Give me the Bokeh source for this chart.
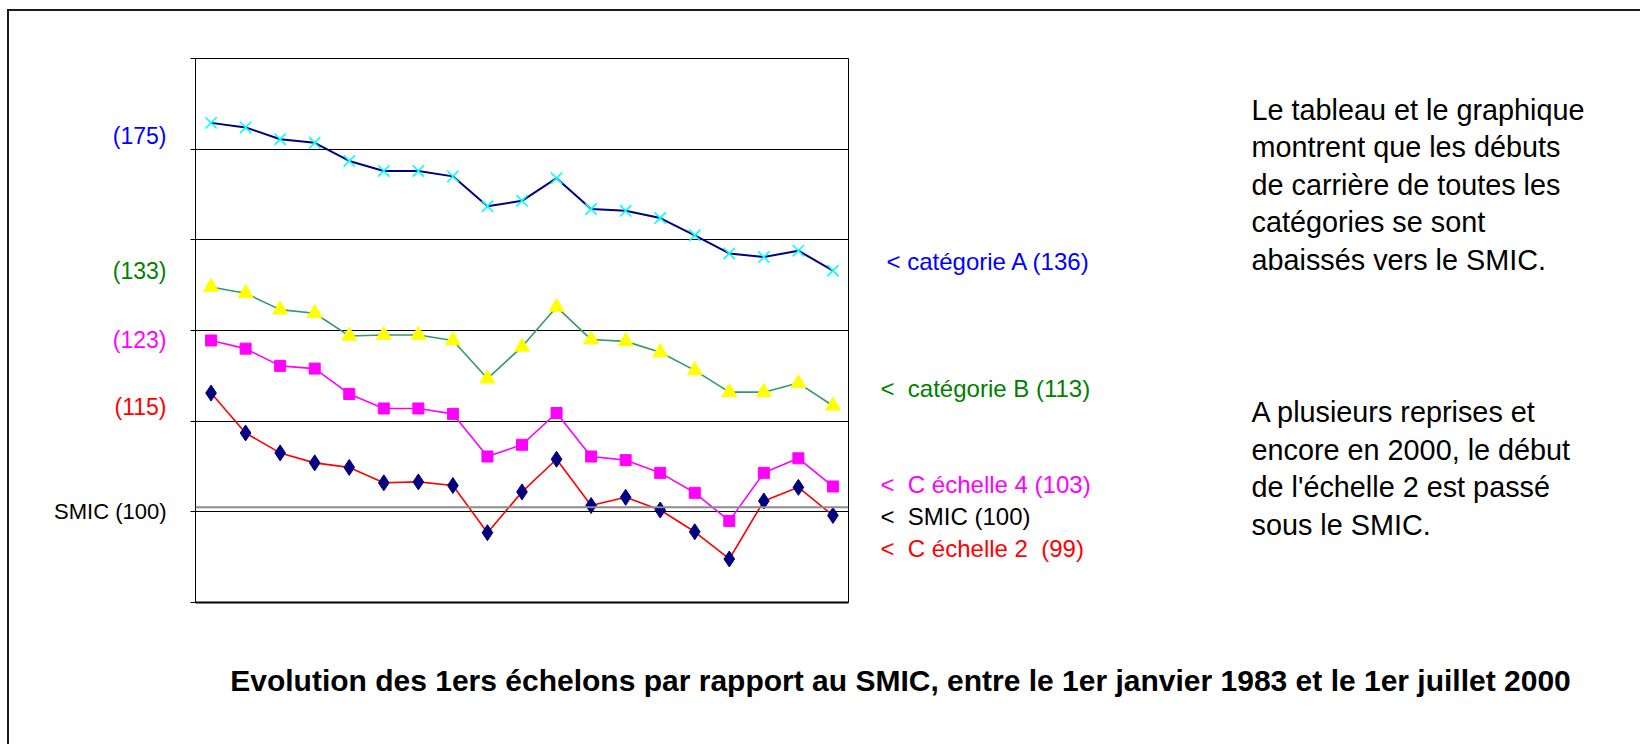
from bokeh.plotting import figure
from bokeh.layouts import row, column
from bokeh.models import Range1d, FixedTicker, Span
from bokeh.core.properties import value
from bokeh.embed import file_html
from bokeh.resources import INLINE

# ---------------- data ----------------
# 19 relevés successifs, du 1er janvier 1983 au 1er juillet 2000
obs = list(range(19))
cat_a = [142.9, 142.4, 141.1, 140.7, 138.7, 137.6, 137.6, 137.0, 133.7, 134.3,
         136.8, 133.4, 133.2, 132.4, 130.5, 128.5, 128.1, 128.8, 126.6]
cat_b = [124.8, 124.1, 122.3, 121.9, 119.4, 119.5, 119.5, 118.9, 114.7, 118.2,
         122.6, 119.0, 118.8, 117.6, 115.6, 113.2, 113.2, 114.2, 111.7]
c_ech4 = [118.9, 118.0, 116.1, 115.8, 113.0, 111.4, 111.4, 110.8, 106.1, 107.4,
          110.9, 106.1, 105.7, 104.3, 102.1, 99.0, 104.3, 105.9, 102.8]
c_ech2 = [113.1, 108.7, 106.5, 105.4, 104.9, 103.2, 103.3, 102.9, 97.7, 102.2,
          105.8, 100.7, 101.6, 100.2, 97.8, 94.8, 101.2, 102.7, 99.6]
smic_level = 100.5
grid_levels = [90, 100, 110, 120, 130, 140, 150]

NB = "\u00a0"
left_labels = ["(175)", "(133)", "(123)", "(115)", "SMIC (100)"]
right_labels = ["< catégorie A (136)", "<" + NB + " catégorie B (113)",
                "<" + NB + " C échelle 4 (103)", "<" + NB + " SMIC (100)",
                "<" + NB + " C échelle 2" + NB + " (99)"]
note_1 = ["Le tableau et le graphique", "montrent que les débuts",
          "de carrière de toutes les", "catégories se sont", "abaissés vers le SMIC."]
note_2 = ["A plusieurs reprises et", "encore en 2000, le début",
          "de l'échelle 2 est passé", "sous le SMIC."]
title_text = ("Evolution des 1ers échelons par rapport au SMIC, entre le 1er janvier 1983 "
              "et le 1er juillet 2000")

# ---------------- layout / styles ----------------
FONT = "Liberation Sans"
BLUE, GREEN, MAGENTA, RED, BLACK = "#0000ff", "#008000", "#ff00ff", "#ff0000", "#000000"
left_colors = [BLUE, GREEN, MAGENTA, RED, BLACK]
left_sizes = ["23px", "23px", "23px", "23px", "22px"]
right_colors = [BLUE, GREEN, MAGENTA, BLACK, RED]

PX0, PY0 = 9, 11            # page position of the content (inside the outer border)
TOP_H = 629                 # height of the upper row
LEFT_W = 160                # width of the left label strip
CH_L, CH_R, CH_T = 26, 10, 47
FRAME_W, FRAME_H = 653, 544
CH_B = TOP_H - CH_T - FRAME_H
CH_W = CH_L + FRAME_W + CH_R
RIGHT_W = 782
TOTAL_W = LEFT_W + CH_W + RIGHT_W
TITLE_H = 104


def side(w, x_start):
    """text strip sharing the chart's frame rows; coordinates are page pixels"""
    f = figure(width=w, height=TOP_H,
               x_range=Range1d(x_start, x_start + w),
               y_range=Range1d(PY0 + CH_T + FRAME_H, PY0 + CH_T),
               x_axis_type=None, y_axis_type=None, output_backend="svg",
               toolbar_location=None, min_border_left=0, min_border_right=0,
               min_border_top=CH_T, min_border_bottom=CH_B)
    f.grid.visible = False
    f.outline_line_color = None
    f.background_fill_color = "white"
    f.border_fill_color = "white"
    return f


# ---------------- main chart ----------------
X0, X1 = -0.45, 18.45
p = figure(width=CH_W, height=TOP_H, x_range=Range1d(X0, X1), y_range=Range1d(90, 150),
           output_backend="svg", toolbar_location=None,
           min_border_left=CH_L, min_border_right=CH_R, min_border_top=CH_T,
           min_border_bottom=CH_B)
p.outline_line_color = BLACK
p.outline_line_width = 1
p.background_fill_color = "white"
p.border_fill_color = "white"

p.xaxis.ticker = FixedTicker(ticks=[])
p.xaxis.axis_line_color = BLACK
p.xaxis.axis_line_width = 2
p.xaxis.major_label_text_font_size = "1px"
p.xaxis.major_label_text_alpha = 0
p.xgrid.grid_line_color = None

p.yaxis.ticker = FixedTicker(ticks=grid_levels)
p.yaxis.axis_line_color = BLACK
p.yaxis.axis_line_width = 1
p.yaxis.major_tick_out = 5
p.yaxis.major_tick_in = 0
p.yaxis.minor_tick_line_color = None
p.yaxis.major_label_text_font_size = "1px"
p.yaxis.major_label_text_alpha = 0
p.yaxis.major_label_standoff = 0
p.ygrid.grid_line_color = BLACK
p.ygrid.grid_line_alpha = 1
p.ygrid.grid_line_width = 1

p.add_layout(Span(location=smic_level, dimension="width", line_color="#8c8c8c", line_width=2))

p.line(obs, cat_a, line_color="#000080", line_width=2)
p.scatter(obs, cat_a, marker="x", size=16, line_color="#00ffff", line_width=1.6)

p.line(obs, cat_b, line_color="#339966", line_width=1.6)
p.scatter(obs, cat_b, marker="triangle", size=15, fill_color="#ffff00", line_color="#ffff00")

p.line(obs, c_ech4, line_color=MAGENTA, line_width=1.6)
p.scatter(obs, c_ech4, marker="square", size=11, fill_color=MAGENTA, line_color=MAGENTA)

p.line(obs, c_ech2, line_color=RED, line_width=1.6)
p.scatter(obs, c_ech2, marker="diamond", size=16, fill_color="#000080", line_color="#000080")

# ---------------- left labels ----------------
left = side(LEFT_W, PX0)
left_px = [166, 166, 166, 166, 166]
left_py = [135.5, 270, 339.5, 406.5, 510.5]
left.text(x=left_px, y=left_py, text=left_labels, text_color=left_colors,
          text_font=value(FONT), text_font_size=left_sizes,
          text_align="right", text_baseline="alphabetic")

# ---------------- right labels and notes ----------------
RX0 = PX0 + LEFT_W + CH_W
right = side(RIGHT_W, RX0)
right_px = [886, 880, 880, 880, 880]
right_py = [260.5, 387.5, 483.5, 515.5, 547.5]
right.text(x=right_px, y=right_py, text=right_labels, text_color=right_colors,
           text_font=value(FONT), text_font_size=value("24px"),
           text_align="left", text_baseline="alphabetic")

NOTE_PX = 1251
note_1_py = [109, 146.5, 184, 221.5, 259]
note_2_py = [411.5, 449, 486.5, 524]
right.text(x=[NOTE_PX] * len(note_1), y=note_1_py, text=note_1,
           text_color=BLACK, text_font=value(FONT), text_font_size=value("28.8px"),
           text_align="left", text_baseline="alphabetic")
right.text(x=[NOTE_PX] * len(note_2), y=note_2_py, text=note_2,
           text_color=BLACK, text_font=value(FONT), text_font_size=value("28.8px"),
           text_align="left", text_baseline="alphabetic")

# ---------------- bottom title ----------------
bottom = figure(width=TOTAL_W, height=TITLE_H, x_range=Range1d(0, TOTAL_W),
                y_range=Range1d(TITLE_H, 0), x_axis_type=None, y_axis_type=None,
                output_backend="svg", toolbar_location=None, min_border=0)
bottom.grid.visible = False
bottom.outline_line_color = None
bottom.border_fill_color = "white"
TY0 = PY0 + TOP_H
bottom.text(x=[900 - PX0], y=[680 - TY0], text=[title_text], text_color=BLACK,
            text_font=value(FONT), text_font_size=value("30px"), text_font_style="bold",
            text_align="center", text_baseline="alphabetic")

layout = column(row(left, p, right), bottom,
                styles={"margin-left": "7px", "margin-top": "9px",
                        "border-left": "2px solid #1a1a1a",
                        "border-top": "2px solid #1a1a1a"})

open("out.html", "w").write(file_html(layout, INLINE))
